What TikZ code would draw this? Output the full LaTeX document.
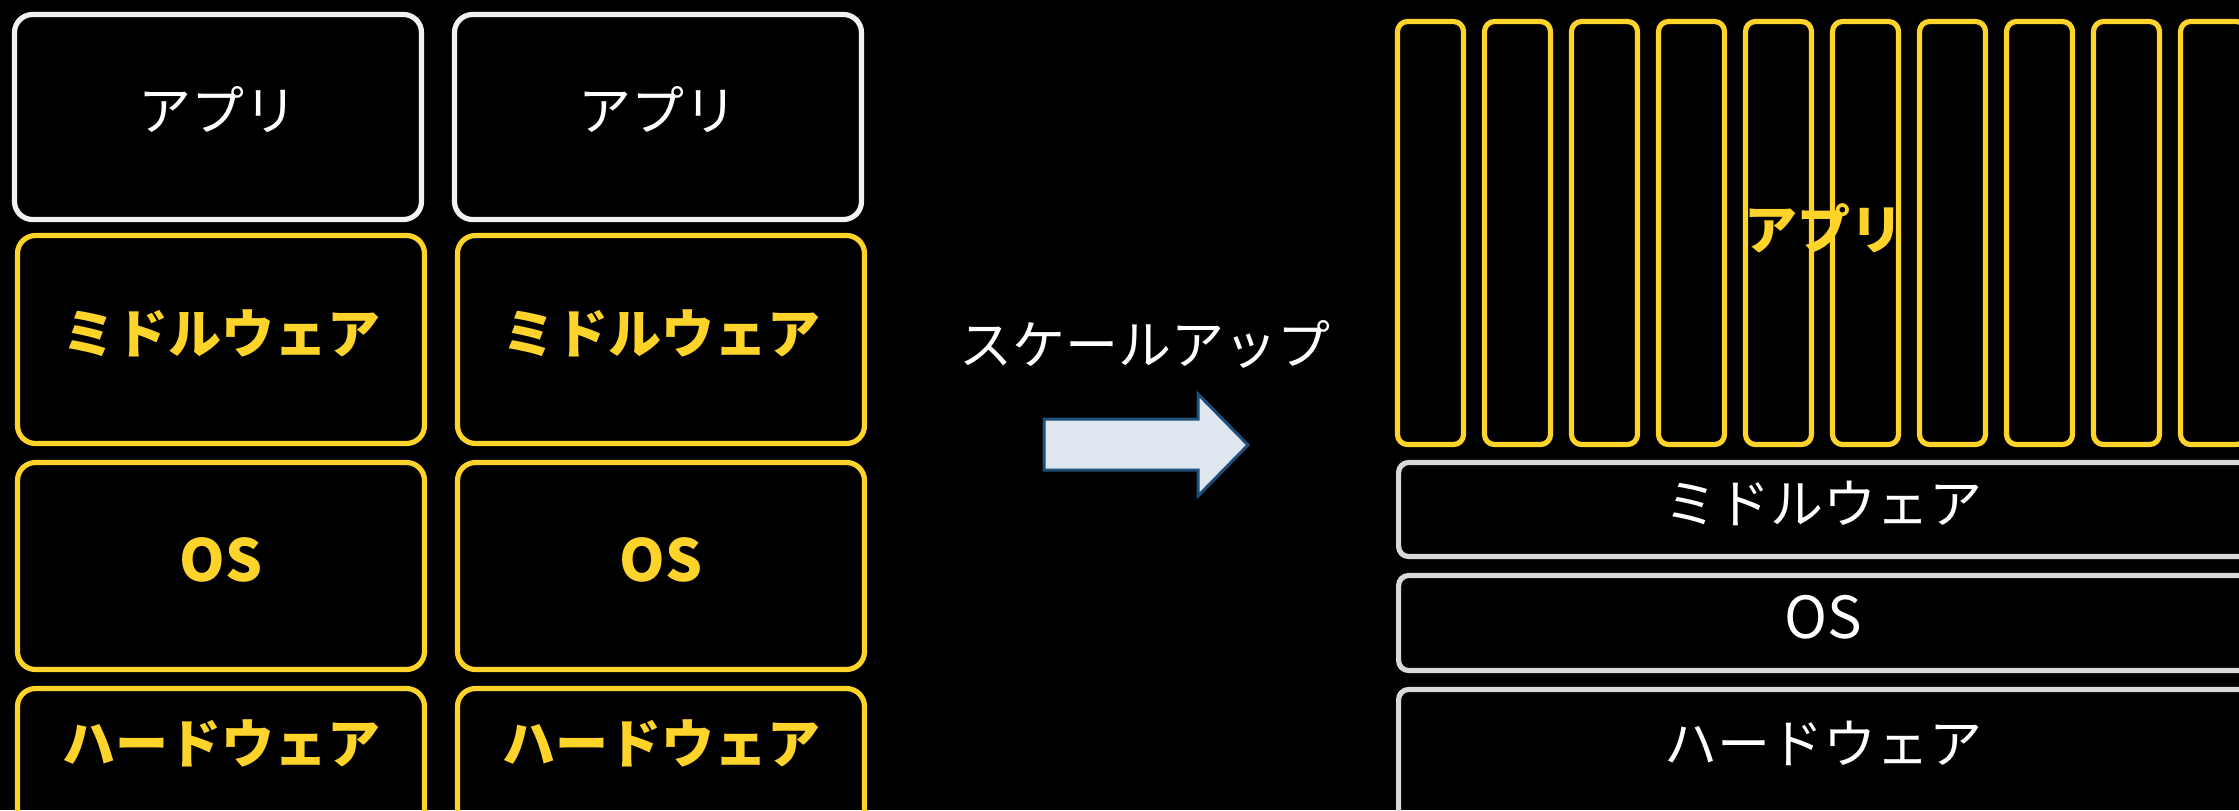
\documentclass[tikz,border=0pt]{standalone}
\usepackage{fontspec}
\setmainfont{Noto Sans CJK JP}
\definecolor{yel}{HTML}{FFD42A}
\definecolor{wht}{HTML}{F2F2F2}
\definecolor{gry}{HTML}{D9D9D9}
\definecolor{arrfill}{HTML}{DEE6EF}
\definecolor{arrdraw}{HTML}{1F4E79}
\tikzset{
  ybox/.style={draw=yel, line width=2.6pt, rounded corners=9pt, inner sep=0pt, minimum width=203.5pt},
  wbox/.style={draw=wht, line width=2.6pt, rounded corners=9pt, inner sep=0pt, minimum width=203.5pt},
  gbox/.style={draw=gry, line width=2.6pt, rounded corners=5pt, inner sep=0pt},
  stripbox/.style={draw=yel, line width=2.6pt, rounded corners=5pt, inner sep=0pt, minimum width=33pt, minimum height=211.5pt},
  lbl/.style={font=\fontsize{26.5}{30}\selectfont, text=white, inner sep=0pt},
  blbl/.style={font=\fontsize{26.5}{30}\selectfont\bfseries, text=yel, inner sep=0pt},
  oslbl/.style={font=\fontsize{29}{32}\selectfont, text=white, inner sep=0pt},
  boslbl/.style={font=\fontsize{29}{32}\selectfont\bfseries, text=yel, inner sep=0pt},
}
\begin{document}
\begin{tikzpicture}[x=0.5pt,y=-0.5pt]
\fill[black] (0,0) rectangle (2239,810);
\useasboundingbox (0,0) rectangle (2239,810);
\clip (0,0) rectangle (2239,810);
% left column 1
\node[wbox, minimum height=102.5pt] (a1) at (218,117) {};
\node[ybox, minimum height=104pt] (m1) at (221,339.5) {};
\node[ybox, minimum height=103.5pt] (o1) at (221,566) {};
\node[ybox, minimum height=120pt] (h1) at (221,808.5) {};
\node[lbl] (ta1) at (218,110) {アプリ};
\node[blbl] (tm1) at (221,333) {ミドルウェア};
\node[boslbl] (to1) at (221,560) {OS};
\node[blbl] (th1) at (221,743) {ハードウェア};
% left column 2
\node[wbox, minimum height=102.5pt] (a2) at (658,117) {};
\node[ybox, minimum height=104pt] (m2) at (661,339.5) {};
\node[ybox, minimum height=103.5pt] (o2) at (661,566) {};
\node[ybox, minimum height=120pt] (h2) at (661,808.5) {};
\node[lbl] (ta2) at (658,110) {アプリ};
\node[blbl] (tm2) at (661,333) {ミドルウェア};
\node[boslbl] (to2) at (661,560) {OS};
\node[blbl] (th2) at (661,743) {ハードウェア};
% arrow
\node[lbl] (su) at (1145,344) {スケールアップ};
\draw[draw=arrdraw, fill=arrfill, line width=1.5pt, line join=miter]
  (1044,419) -- (1198,419) -- (1198,394) -- (1248,445) -- (1198,496) -- (1198,470) -- (1044,470) -- cycle;
% right side strips
\foreach \i in {0,...,9} {
  \node[stripbox] (s\i) at ({1430.5+87*\i},233) {};
}
\node[blbl] (tar) at (1824,228) {アプリ};
\node[gbox, minimum width=451.25pt, minimum height=47pt, anchor=west] (mr) at (1396,509.5) {};
\node[gbox, minimum width=451.25pt, minimum height=47.5pt, anchor=west] (or) at (1396,623) {};
\node[gbox, minimum width=451.25pt, minimum height=120pt, anchor=west] (hr) at (1396,809.5) {};
\node[lbl] (tmr) at (1823,503) {ミドルウェア};
\node[oslbl] (tor) at (1823,617) {OS};
\node[lbl] (thr) at (1823,743) {ハードウェア};
\end{tikzpicture}
\end{document}
